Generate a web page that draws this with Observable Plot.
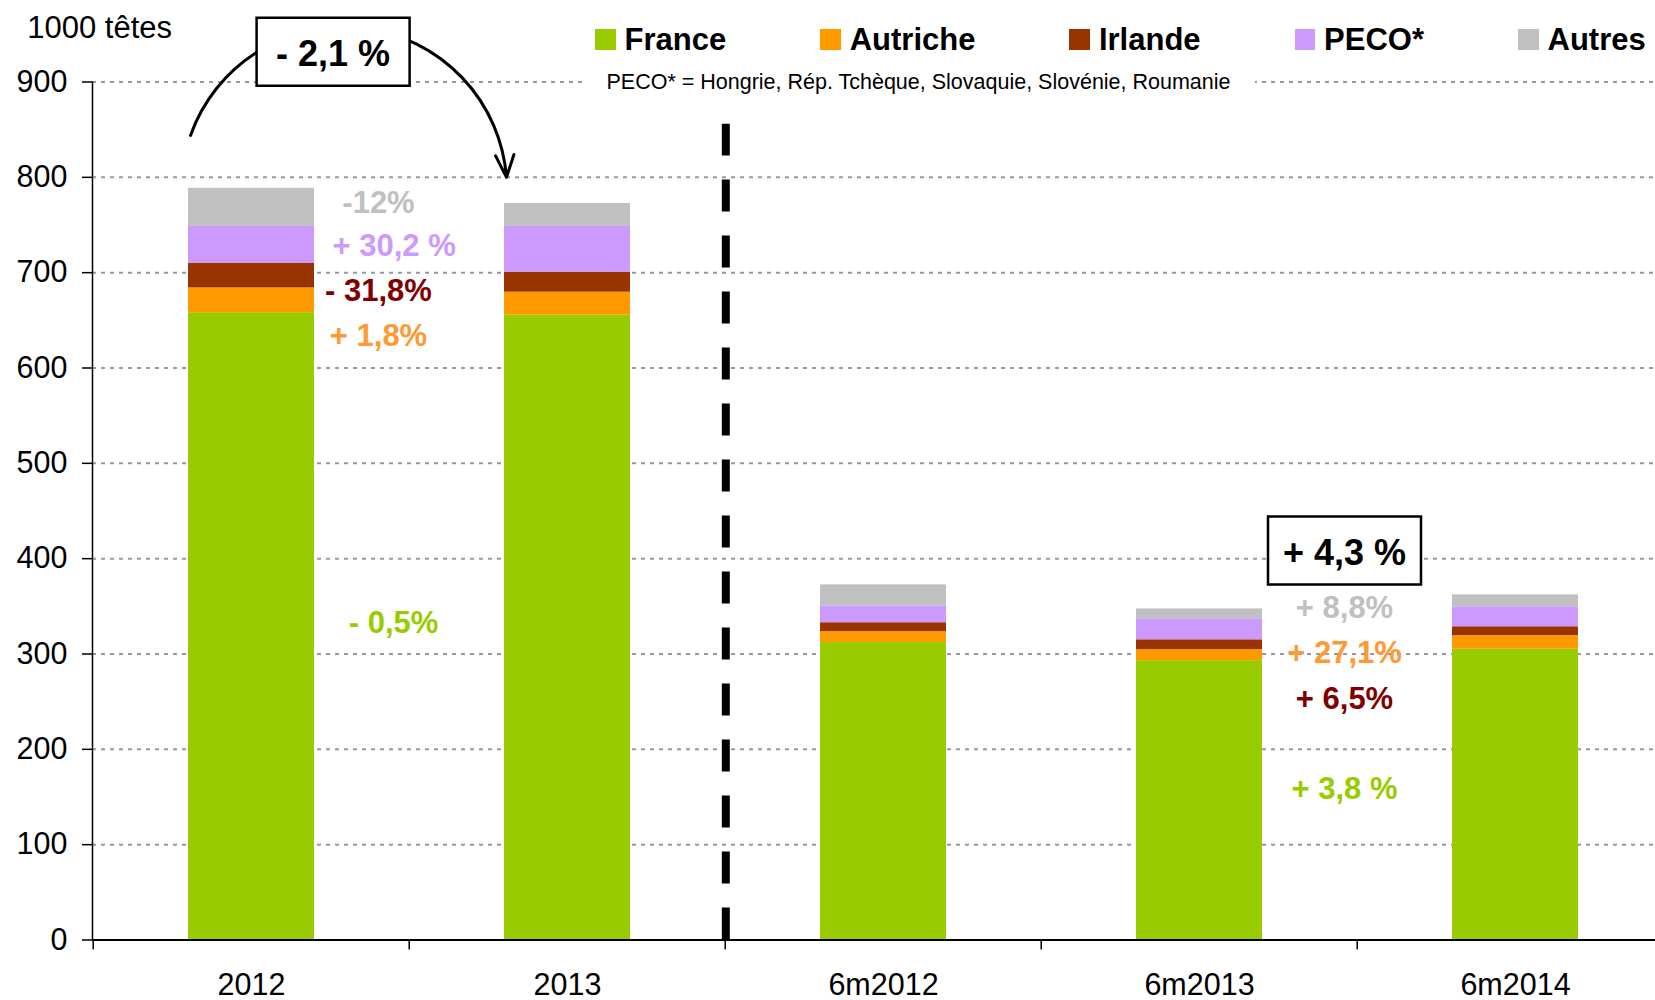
<!DOCTYPE html>
<html><head><meta charset="utf-8">
<script src="https://cdn.jsdelivr.net/npm/d3@7"></script>
<script src="https://cdn.jsdelivr.net/npm/@observablehq/plot@0.6"></script>
<style>
body{margin:0;background:#fff;overflow:hidden;font-family:"Liberation Sans",Arial,sans-serif;}
#wrap{position:relative;width:1655px;height:1000px;overflow:hidden;}
#wrap svg{position:absolute;left:0;top:0;}
#legend{position:absolute;left:595px;top:23.8px;display:flex;gap:94px;font-weight:bold;font-size:31px;line-height:31px;color:#000;}
.item{display:flex;align-items:center;}
.sw{width:20.5px;height:20.5px;margin-right:9px;}
#note{position:absolute;left:582px;width:673px;top:72px;height:21px;background:#fff;text-align:center;font-size:21.5px;line-height:21px;padding-top:0px;color:#000;white-space:nowrap;}
</style></head><body><div id="wrap"></div>
<script>
// ---- data ----
const periods = ["2012", "2013", "6m2012", "6m2013", "6m2014"];
const series = ["France", "Autriche", "Irlande", "PECO*", "Autres"];
const france   = [658, 655.5, 312, 293, 305];
const autriche = [26, 24, 11.4, 11.5, 14.3];
const irlande  = [26, 21, 9.4, 10.4, 9.3];
const peco     = [38.5, 48, 17.7, 22, 20.9];
const autres   = [40, 24, 22, 10.4, 12.5];
const yTicks = [0, 100, 200, 300, 400, 500, 600, 700, 800, 900];
const unitLabel = "1000 têtes";
const pecoNote = "PECO* = Hongrie, Rép. Tchèque, Slovaquie, Slovénie, Roumanie";
const annualChangeLabels = ["- 0,5%", "+ 1,8%", "- 31,8%", "+ 30,2 %", "-12%"];
const halfYearChangeLabels = ["+ 3,8 %", "+ 27,1%", "+ 6,5%", null, "+ 8,8%"];
const totalChangeLabels = ["- 2,1 %", "+ 4,3 %"];

// ---- styles / layout ----
const barColors = ["#99CC00", "#FF9900", "#993300", "#CC99FF", "#C0C0C0"];
const labelColors = ["#99CC00", "#FF9933", "#800000", "#CC99FF", "#C0C0C0"];
const FONT = '"Liberation Sans", Arial, sans-serif';
const W = 1655, H = 1000, mL = 92, mT = 81.5, mB = 60.5;
const step = 316.6;
// annotation anchors (data units) and offsets
const annualY = [332, 633, 680.5, 728, 772.6];
const annualDx = [142, 127, 127, 142.6, 127];
const halfY = [158.3, 300.6, 253.2, null, 348];
const halfDx = 145;
const boxes = [
  {period: "2012", y: 931.7, dx: 81.6, label: totalChangeLabels[0]},
  {period: "6m2013", y: 408.5, dx: 145, label: totalChangeLabels[1]}
];

const valuesBySeries = [france, autriche, irlande, peco, autres];
const data = periods.flatMap((p, i) => series.map((s, j) => ({period: p, series: s, value: valuesBySeries[j][i]})));

const boxSymbol = {draw(ctx) {
  const w = 76.5, h = 34;
  ctx.moveTo(-w, -h); ctx.lineTo(w, -h); ctx.lineTo(w, h); ctx.lineTo(-w, h); ctx.closePath();
}};

const annualMarks = annualChangeLabels.map((t, j) => Plot.text([{period: "2012", y: annualY[j], t}], {
  x: "period", y: "y", text: "t", dx: annualDx[j], fill: labelColors[j], fontSize: 31, fontWeight: "bold", textAnchor: "middle", lineAnchor: "middle"
}));
const halfMarks = halfYearChangeLabels.map((t, j) => t == null ? null : Plot.text([{period: "6m2013", y: halfY[j], t}], {
  x: "period", y: "y", text: "t", dx: halfDx, fill: labelColors[j], fontSize: 31, fontWeight: "bold", textAnchor: "middle", lineAnchor: "middle"
}));
const boxMarks = boxes.flatMap(b => [
  Plot.dot([b], {x: "period", y: "y", dx: b.dx, symbol: boxSymbol, fill: "white", stroke: "black", strokeWidth: 2.5}),
  Plot.text([b], {x: "period", y: "y", text: "label", dx: b.dx, dy: 3, fontSize: 36, fontWeight: "bold", fill: "black", textAnchor: "middle", lineAnchor: "middle"})
]);

const chart = Plot.plot({
  width: W, height: H,
  marginLeft: mL, marginRight: 0, marginTop: mT, marginBottom: mB,
  style: {fontFamily: FONT, fontSize: "30px", background: "transparent", overflow: "visible"},
  x: {type: "band", domain: periods, range: [mL, mL + 5 * step], paddingInner: 0.6, paddingOuter: 0.3, label: null},
  y: {domain: [0, 900], label: null},
  color: {domain: series, range: barColors},
  marks: [
    Plot.gridY(yTicks.filter(d => d > 0), {stroke: "#999", strokeOpacity: 1, strokeWidth: 2, strokeDasharray: "4,5"}),
    Plot.barY(data, {x: "period", y: "value", fill: "series", order: series}),
    Plot.ruleY([0], {stroke: "black", strokeWidth: 2}),
    Plot.frame({anchor: "left", stroke: "black", strokeWidth: 1.5}),
    Plot.axisY({ticks: yTicks, tickSize: 10, tickPadding: 15, fontSize: 30.5, label: null, strokeWidth: 1.5}),
    Plot.axisX({tickSize: 10, dx: -step / 2, text: null, label: null, strokeWidth: 1.5}),
    Plot.axisX({tickSize: 0, tickPadding: 33, fontSize: 30.5, label: null}),
    Plot.ruleX(["2013"], {x: d => d, dx: step / 2, y1: () => 0, y2: () => 855.7, stroke: "black", strokeWidth: 8, strokeDasharray: "32,24"}),
    Plot.text([unitLabel], {frameAnchor: "top-left", text: d => d, dx: -65.3, dy: -54.4, textAnchor: "start", lineAnchor: "middle", fontSize: 31}),
    Plot.arrow([{from: "2012", to: "2013", a: 844, b: 800}], {x1: "from", y1: "a", x2: "to", y2: "b", dx: -61, bend: 78, headLength: 12, headAngle: 45, stroke: "black", strokeWidth: 3}),
    ...boxMarks,
    ...annualMarks,
    ...halfMarks.filter(Boolean)
  ]
});

const wrap = document.getElementById("wrap");
wrap.appendChild(chart);

const legend = document.createElement("div");
legend.id = "legend";
series.forEach((s, j) => {
  const item = document.createElement("div");
  item.className = "item";
  const sw = document.createElement("span");
  sw.className = "sw";
  sw.style.background = barColors[j];
  const t = document.createElement("span");
  t.textContent = s;
  item.appendChild(sw); item.appendChild(t);
  legend.appendChild(item);
});
wrap.appendChild(legend);

const note = document.createElement("div");
note.id = "note";
note.textContent = pecoNote;
wrap.appendChild(note);
</script>
</body></html>
